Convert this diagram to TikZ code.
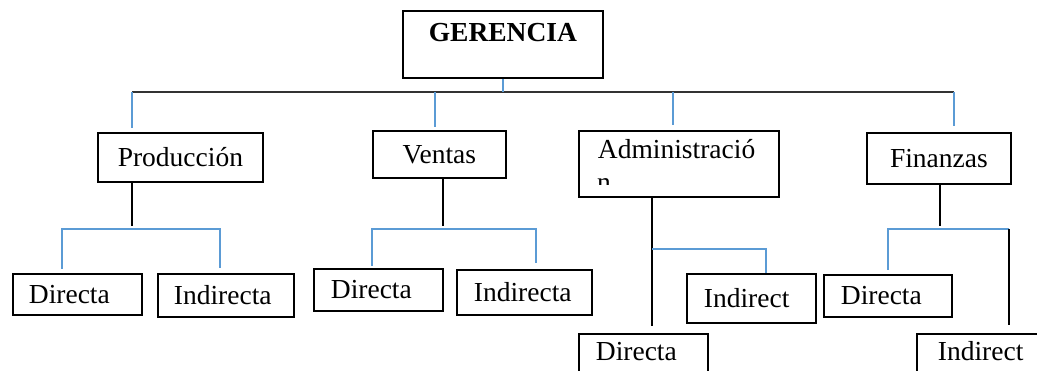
\documentclass[tikz,border=0pt]{standalone}
\usepackage{fontspec}
\setmainfont{Liberation Serif}
\definecolor{linkblue}{RGB}{91,155,213}
\begin{document}
\begin{tikzpicture}[x=1pt,y=-1pt,
  box/.style={draw, line width=1.8pt, inner ysep=0pt, anchor=north west,
    font=\fontsize{27.5}{32}\selectfont, text height=20pt, text depth=2pt},
  cbox/.style={box, inner xsep=0pt},
  lbox/.style={box, align=left},
  blk/.style={line width=1.9pt, black},
  bus/.style={line width=2.6pt, black!80},
  blu/.style={line width=1.8pt, linkblue},
]
\clip (0,0) rectangle (1037,371);
\fill[white] (0,0) rectangle (1037,371);

% top level
\node[cbox, minimum width=200pt, minimum height=67pt, text height=31pt, text depth=36pt,
  font=\fontsize{27.5}{32}\selectfont\bfseries] (ger) at (402,10) {GERENCIA};

% departments
\node[cbox, minimum width=165pt, minimum height=49pt] (prod) at (97,132) {Producción};
\node[cbox, minimum width=133pt, minimum height=47pt] (vent) at (372,130) {Ventas};
\node[lbox, text width=162pt, inner xsep=19pt, text height=28pt, text depth=38pt] (adm) at (578,130) {Administració};
\node[cbox, minimum width=144pt, minimum height=51pt] (fin) at (866,132) {Finanzas};
\begin{scope}
  \clip (578,130) rectangle (778,185);
  \node[anchor=base west, inner sep=0pt, font=\fontsize{27.5}{32}\selectfont] (admn) at (597,192) {n};
\end{scope}

% sub-units
\node[lbox, text width=97pt,  inner xsep=16pt, minimum height=41pt] (d1) at (12,273)  {Directa};
\node[lbox, text width=104pt, inner xsep=16pt, minimum height=43pt] (i1) at (157,273) {Indirecta};
\node[lbox, text width=95pt,  inner xsep=17pt, minimum height=42pt] (d2) at (313,268) {Directa};
\node[lbox, text width=101pt, inner xsep=17pt, minimum height=45pt] (i2) at (456,269) {Indirecta};
\node[lbox, text width=95pt,  inner xsep=17pt, minimum height=49pt] (ia) at (686,273) {Indirect};
\node[lbox, text width=94pt,  inner xsep=17pt, minimum height=42pt] (df) at (823,274) {Directa};
\node[lbox, text width=95pt,  inner xsep=17pt, text height=27pt, text depth=33pt] (da) at (578,333) {Directa};
\node[lbox, text width=87pt,  inner xsep=21pt, text height=27pt, text depth=33pt] (if) at (916,333) {Indirect};

% main bus under GERENCIA
\coordinate (busL) at (132,92);
\coordinate (busR) at (954,92);
\coordinate (dP) at (132,92);
\coordinate (dV) at (435,92);
\coordinate (dA) at (673,92);
\coordinate (dF) at (954,92);
\draw[bus] (busL) -- (busR);
\draw[blu] (ger.south) -- (ger.south |- busL);
\draw[blu, shorten >=4pt] (dP) -- (dP |- prod.north);
\draw[blu, shorten >=3pt] (dV) -- (dV |- vent.north);
\draw[blu, shorten >=5pt] (dA) -- (dA |- adm.north);
\draw[blu, shorten >=6pt] (dF) -- (dF |- fin.north);

% Producción branch
\coordinate (jP) at (132,226);
\coordinate (hP1) at (62,229);
\coordinate (hP2) at (220,229);
\draw[blk] (jP |- prod.south) -- (jP);
\draw[blu, shorten <=4pt, shorten >=5pt] (hP1 |- d1.north) -- (hP1) -- (hP2) -- (hP2 |- i1.north);

% Ventas branch
\coordinate (jV) at (443,226);
\coordinate (hV1) at (372,229);
\coordinate (hV2) at (536,229);
\draw[blk] (jV |- vent.south) -- (jV);
\draw[blu, shorten <=2pt, shorten >=6pt] (hV1 |- d2.north) -- (hV1) -- (hV2) -- (hV2 |- i2.north);

% Administración branch
\coordinate (jA) at (652,326);
\coordinate (hA1) at (652,249);
\coordinate (hA2) at (766,249);
\draw[blk] (jA |- adm.south) -- (jA);
\draw[blu] (hA1) -- (hA2) -- (hA2 |- ia.north);

% Finanzas branch
\coordinate (jF) at (940,226);
\coordinate (hF1) at (888,229);
\coordinate (hF2) at (1009,229);
\draw[blk] (jF |- fin.south) -- (jF);
\draw[blu, shorten <=4pt] (hF1 |- df.north) -- (hF1) -- (hF2);
\draw[blk, shorten >=8pt] (hF2) -- (hF2 |- if.north);
\end{tikzpicture}
\end{document}
